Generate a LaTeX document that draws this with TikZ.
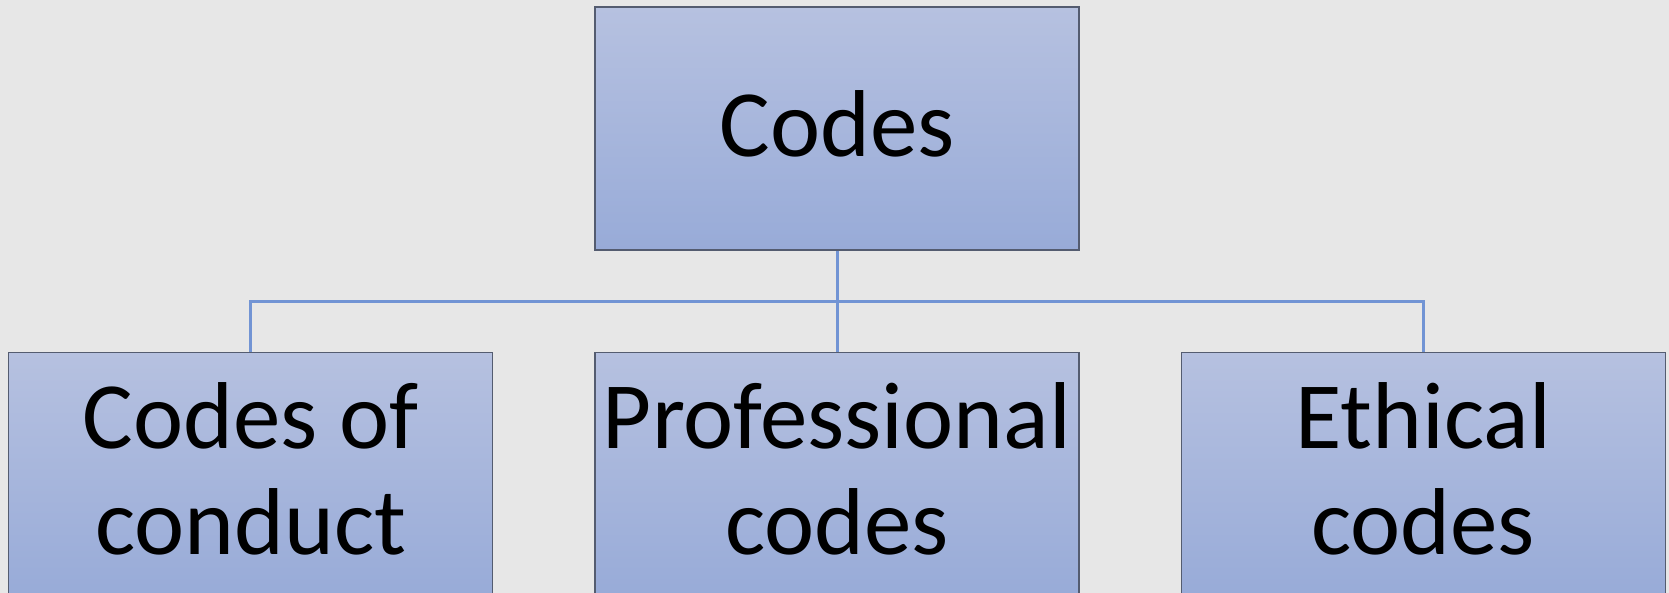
\documentclass[tikz,border=0pt]{standalone}
\usepackage{fontspec}
\setmainfont{Carlito}
\usetikzlibrary{positioning,calc}

\definecolor{bgray}{RGB}{231,231,231}
\definecolor{boxtop}{RGB}{182,193,224}
\definecolor{boxbot}{RGB}{152,171,216}
\definecolor{boxedge}{RGB}{84,92,112}
\definecolor{linkblue}{RGB}{114,148,212}

\begin{document}
\begin{tikzpicture}
  [
   x=1pt,y=1pt,
   node distance=101pt and 101pt,
   codebox/.style={rectangle,draw=boxedge,line width=1.2pt,
     top color=boxtop,bottom color=boxbot,
     minimum width=484pt,minimum height=243pt,inner sep=0pt,
     align=center,font=\fontsize{95}{106}\selectfont,
     execute at end node={\rule[-10pt]{0pt}{0pt}}},
   link/.style={draw=linkblue,line width=3pt}
  ]
   \fill[bgray] (0,0) rectangle (1669,593);
   \useasboundingbox (0,0) rectangle (1669,593);

   \node[codebox] (top) at (837,464.5) {Codes};
   \node[codebox] (mid) [below=of top] {Professional\\codes};
   \node[codebox] (left) [left=of mid] {Codes of\\conduct};
   \node[codebox] (right) [right=of mid] {Ethical\\codes};

   \coordinate (bus) at ($(top.south)!0.5!(mid.north)$);
   \draw[link] (top.south) -- (mid.north);
   \draw[link] (left.north) |- (bus) -| (right.north);

\end{tikzpicture}
\end{document}
